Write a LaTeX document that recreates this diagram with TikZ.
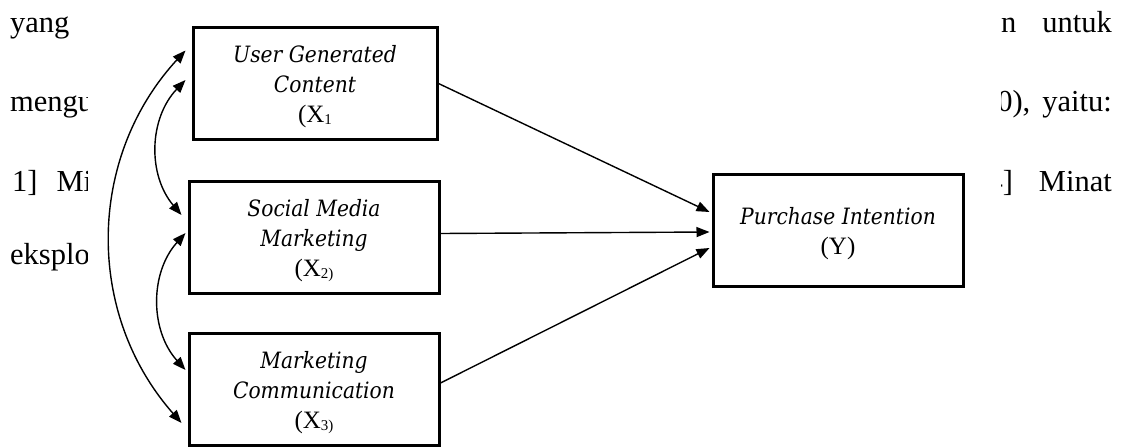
\documentclass[tikz,border=0pt]{standalone}
\usepackage{fontspec}
\setmainfont{Liberation Serif}
\newfontfamily\boxfont[FakeStretch=0.9]{DejaVu Serif}
\usetikzlibrary{arrows.meta}

\newcommand{\xlab}{\rmfamily\fontsize{25}{30}\selectfont}
\newcommand{\xsub}[1]{\raisebox{-2pt}{\fontsize{15}{15}\selectfont #1}}
\newcommand{\topstrut}{\rule{0pt}{24pt}}

\tikzset{
  varbox/.style={draw, line width=3pt, minimum width=250pt, minimum height=112pt,
    align=center, inner sep=0pt, font=\boxfont\fontsize{22.5}{30}\selectfont},
  pathto/.style={-{Triangle[length=13pt,width=10pt]}, line width=1.4pt},
  corr/.style={{Triangle[length=13pt,width=10pt]}-{Triangle[length=13pt,width=10pt]},
    line width=1.4pt, bend right=42, looseness=1},
  bgtext/.style={inner sep=0pt, font=\fontsize{30.5}{36}\selectfont},
}

\begin{document}
\begin{tikzpicture}[x=1pt, y=-1pt]

  %% page text behind the figure
  \node[bgtext, anchor=base west] (t1) at (10,32) {yang};
  \node[bgtext, anchor=base west] (t2) at (10,111) {mengukur};
  \node[bgtext, anchor=base west] (t3) at (12,191) {1]\hspace{19pt}Minat};
  \node[bgtext, anchor=base west] (t4) at (10,264) {eksploratif};
  \node[bgtext, anchor=base east] (t5) at (1112,32) {n\hspace{26pt}untuk};
  \node[bgtext, anchor=base east] (t6) at (1112,111) {0),\hspace{12pt}yaitu:};
  \node[bgtext, anchor=base east] (t7) at (1112,191) {4]\hspace{26pt}Minat};

  %% white figure area
  \fill[white] (88,10) rectangle (1001,447);

  %% variables
  \node[varbox, minimum width=244pt] (X1) at (315,83.5)
    {\topstrut\textit{User Generated}\\\textit{Content}\\{\xlab (X\xsub{1}}};
  \node[varbox] (X2) at (314,237.5)
    {\topstrut\textit{Social Media}\\\textit{Marketing}\\{\xlab (X\xsub{2)}}};
  \node[varbox] (X3) at (314,389)
    {\topstrut\textit{Marketing}\\\textit{Communication}\\{\xlab (X\xsub{3)}}};
  \node[varbox] (Y) at (838,230)
    {\topstrut\textit{Purchase Intention}\\{\xlab (Y)}};

  %% correlations
  \draw[corr] ([xshift=-6pt,yshift=33pt]X1.west) to ([xshift=-6pt,yshift=-34pt]X3.west);
  \draw[corr] ([xshift=-6pt,yshift=3.5pt]X1.west) to ([xshift=-6pt,yshift=22.5pt]X2.west);
  \draw[corr] ([xshift=-2pt,yshift=4.5pt]X2.west) to ([xshift=-2pt,yshift=19pt]X3.west);

  %% paths to Y
  \draw[pathto] (X1.east) -- ([xshift=-2pt,yshift=18pt]Y.west);
  \draw[pathto] ([yshift=4pt]X2.east) -- ([xshift=-2pt,yshift=-2pt]Y.west);
  \draw[pathto] ([yshift=6pt]X3.east) -- ([xshift=-2pt,yshift=-18pt]Y.west);

  \pgfresetboundingbox
  \path[use as bounding box] (0,0) rectangle (1122,447);
\end{tikzpicture}
\end{document}
